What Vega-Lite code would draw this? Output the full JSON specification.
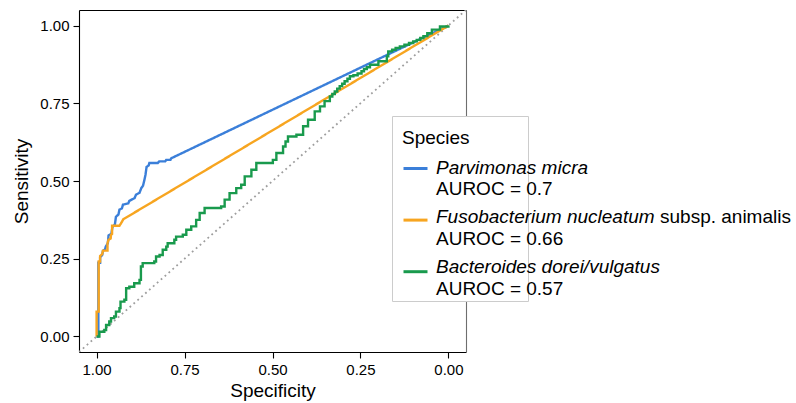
{
  "$schema": "https://vega.github.io/schema/vega-lite/v6.json",
  "width": 387,
  "height": 342,
  "autosize": {"type": "none"},
  "padding": {"left": 79, "top": 10, "right": 330, "bottom": 51},
  "background": "white",
  "config": {
    "view": {"stroke": null},
    "font": "Liberation Sans",
    "axis": {
      "grid": false,
      "domainColor": "#000000",
      "domainWidth": 1.1,
      "tickColor": "#000000",
      "tickWidth": 1.1,
      "tickSize": 6,
      "labelFont": "Liberation Sans",
      "labelFontSize": 15,
      "labelColor": "#000000",
      "titleFont": "Liberation Sans",
      "titleFontSize": 19,
      "titleFontWeight": "normal",
      "titleColor": "#000000"
    },
    "legend": {
      "labelFont": "Liberation Sans",
      "titleFont": "Liberation Sans",
      "labelColor": "#000000",
      "titleColor": "#000000"
    }
  },
  "datasets": {
    "info": [
      {"id": "P", "species": "Parvimonas micra", "auroc": 0.7},
      {"id": "F", "species": "Fusobacterium nucleatum subsp. animalis", "auroc": 0.66},
      {"id": "B", "species": "Bacteroides dorei/vulgatus", "auroc": 0.57}
    ],
    "diag": [
      {"spec": -0.05, "sens": 1.05},
      {"spec": 1.05, "sens": -0.05}
    ],
    "roc": [
      {"id":"P","spec":1,"sens":0},{"id":"P","spec":0.995,"sens":0},{"id":"P","spec":0.995,"sens":0.237},{"id":"P","spec":0.99,"sens":0.237},{"id":"P","spec":0.99,"sens":0.255},{"id":"P","spec":0.984,"sens":0.262},{"id":"P","spec":0.982,"sens":0.275},{"id":"P","spec":0.976,"sens":0.28},{"id":"P","spec":0.974,"sens":0.289},{"id":"P","spec":0.968,"sens":0.3},{"id":"P","spec":0.966,"sens":0.325},{"id":"P","spec":0.958,"sens":0.33},{"id":"P","spec":0.955,"sens":0.352},{"id":"P","spec":0.948,"sens":0.36},{"id":"P","spec":0.945,"sens":0.385},{"id":"P","spec":0.938,"sens":0.392},{"id":"P","spec":0.935,"sens":0.408},{"id":"P","spec":0.928,"sens":0.412},{"id":"P","spec":0.925,"sens":0.424},{"id":"P","spec":0.91,"sens":0.428},{"id":"P","spec":0.907,"sens":0.436},{"id":"P","spec":0.892,"sens":0.445},{"id":"P","spec":0.888,"sens":0.456},{"id":"P","spec":0.878,"sens":0.462},{"id":"P","spec":0.873,"sens":0.477},{"id":"P","spec":0.868,"sens":0.485},{"id":"P","spec":0.865,"sens":0.499},{"id":"P","spec":0.861,"sens":0.52},{"id":"P","spec":0.858,"sens":0.545},{"id":"P","spec":0.852,"sens":0.55},{"id":"P","spec":0.85,"sens":0.558},{"id":"P","spec":0.826,"sens":0.558},{"id":"P","spec":0.822,"sens":0.563},{"id":"P","spec":0.805,"sens":0.563},{"id":"P","spec":0.802,"sens":0.568},{"id":"P","spec":0.79,"sens":0.568},{"id":"P","spec":0.788,"sens":0.573},{"id":"P","spec":0,"sens":1},
      {"id":"F","spec":1,"sens":0},{"id":"F","spec":1,"sens":0.08},{"id":"F","spec":0.994,"sens":0.08},{"id":"F","spec":0.994,"sens":0.241},{"id":"F","spec":0.99,"sens":0.241},{"id":"F","spec":0.99,"sens":0.259},{"id":"F","spec":0.984,"sens":0.265},{"id":"F","spec":0.982,"sens":0.276},{"id":"F","spec":0.969,"sens":0.276},{"id":"F","spec":0.969,"sens":0.3},{"id":"F","spec":0.966,"sens":0.311},{"id":"F","spec":0.96,"sens":0.315},{"id":"F","spec":0.959,"sens":0.327},{"id":"F","spec":0.956,"sens":0.33},{"id":"F","spec":0.956,"sens":0.356},{"id":"F","spec":0.935,"sens":0.356},{"id":"F","spec":0.93,"sens":0.365},{"id":"F","spec":0.924,"sens":0.377},{"id":"F","spec":0,"sens":1},
      {"id":"B","spec":1,"sens":0},{"id":"B","spec":0.992,"sens":0},{"id":"B","spec":0.992,"sens":0.015},{"id":"B","spec":0.978,"sens":0.015},{"id":"B","spec":0.978,"sens":0.021},{"id":"B","spec":0.973,"sens":0.021},{"id":"B","spec":0.973,"sens":0.037},{"id":"B","spec":0.964,"sens":0.037},{"id":"B","spec":0.964,"sens":0.048},{"id":"B","spec":0.959,"sens":0.048},{"id":"B","spec":0.959,"sens":0.059},{"id":"B","spec":0.95,"sens":0.059},{"id":"B","spec":0.95,"sens":0.064},{"id":"B","spec":0.945,"sens":0.064},{"id":"B","spec":0.945,"sens":0.08},{"id":"B","spec":0.935,"sens":0.08},{"id":"B","spec":0.935,"sens":0.091},{"id":"B","spec":0.932,"sens":0.091},{"id":"B","spec":0.932,"sens":0.112},{"id":"B","spec":0.921,"sens":0.112},{"id":"B","spec":0.921,"sens":0.118},{"id":"B","spec":0.916,"sens":0.118},{"id":"B","spec":0.916,"sens":0.155},{"id":"B","spec":0.907,"sens":0.155},{"id":"B","spec":0.907,"sens":0.16},{"id":"B","spec":0.893,"sens":0.16},{"id":"B","spec":0.893,"sens":0.171},{"id":"B","spec":0.878,"sens":0.171},{"id":"B","spec":0.878,"sens":0.182},{"id":"B","spec":0.874,"sens":0.182},{"id":"B","spec":0.874,"sens":0.225},{"id":"B","spec":0.869,"sens":0.225},{"id":"B","spec":0.869,"sens":0.236},{"id":"B","spec":0.836,"sens":0.236},{"id":"B","spec":0.836,"sens":0.241},{"id":"B","spec":0.831,"sens":0.241},{"id":"B","spec":0.831,"sens":0.257},{"id":"B","spec":0.821,"sens":0.257},{"id":"B","spec":0.821,"sens":0.262},{"id":"B","spec":0.812,"sens":0.262},{"id":"B","spec":0.812,"sens":0.279},{"id":"B","spec":0.802,"sens":0.279},{"id":"B","spec":0.802,"sens":0.289},{"id":"B","spec":0.798,"sens":0.289},{"id":"B","spec":0.798,"sens":0.3},{"id":"B","spec":0.779,"sens":0.3},{"id":"B","spec":0.779,"sens":0.311},{"id":"B","spec":0.774,"sens":0.311},{"id":"B","spec":0.774,"sens":0.321},{"id":"B","spec":0.755,"sens":0.321},{"id":"B","spec":0.755,"sens":0.327},{"id":"B","spec":0.745,"sens":0.327},{"id":"B","spec":0.745,"sens":0.343},{"id":"B","spec":0.731,"sens":0.343},{"id":"B","spec":0.731,"sens":0.354},{"id":"B","spec":0.717,"sens":0.354},{"id":"B","spec":0.717,"sens":0.375},{"id":"B","spec":0.707,"sens":0.375},{"id":"B","spec":0.707,"sens":0.397},{"id":"B","spec":0.693,"sens":0.397},{"id":"B","spec":0.693,"sens":0.413},{"id":"B","spec":0.646,"sens":0.413},{"id":"B","spec":0.646,"sens":0.418},{"id":"B","spec":0.636,"sens":0.418},{"id":"B","spec":0.636,"sens":0.44},{"id":"B","spec":0.622,"sens":0.44},{"id":"B","spec":0.622,"sens":0.461},{"id":"B","spec":0.603,"sens":0.461},{"id":"B","spec":0.603,"sens":0.477},{"id":"B","spec":0.589,"sens":0.477},{"id":"B","spec":0.589,"sens":0.488},{"id":"B","spec":0.579,"sens":0.488},{"id":"B","spec":0.579,"sens":0.515},{"id":"B","spec":0.56,"sens":0.515},{"id":"B","spec":0.56,"sens":0.536},{"id":"B","spec":0.546,"sens":0.536},{"id":"B","spec":0.546,"sens":0.558},{"id":"B","spec":0.499,"sens":0.558},{"id":"B","spec":0.499,"sens":0.568},{"id":"B","spec":0.489,"sens":0.568},{"id":"B","spec":0.489,"sens":0.59},{"id":"B","spec":0.47,"sens":0.59},{"id":"B","spec":0.47,"sens":0.611},{"id":"B","spec":0.463,"sens":0.611},{"id":"B","spec":0.463,"sens":0.627},{"id":"B","spec":0.456,"sens":0.627},{"id":"B","spec":0.456,"sens":0.643},{"id":"B","spec":0.432,"sens":0.643},{"id":"B","spec":0.432,"sens":0.649},{"id":"B","spec":0.413,"sens":0.649},{"id":"B","spec":0.413,"sens":0.676},{"id":"B","spec":0.399,"sens":0.676},{"id":"B","spec":0.399,"sens":0.697},{"id":"B","spec":0.38,"sens":0.697},{"id":"B","spec":0.38,"sens":0.724},{"id":"B","spec":0.365,"sens":0.724},{"id":"B","spec":0.365,"sens":0.74},{"id":"B","spec":0.352,"sens":0.74},{"id":"B","spec":0.352,"sens":0.757},{"id":"B","spec":0.337,"sens":0.757},{"id":"B","spec":0.337,"sens":0.772},{"id":"B","spec":0.33,"sens":0.772},{"id":"B","spec":0.33,"sens":0.78},{"id":"B","spec":0.323,"sens":0.78},{"id":"B","spec":0.323,"sens":0.788},{"id":"B","spec":0.316,"sens":0.788},{"id":"B","spec":0.316,"sens":0.797},{"id":"B","spec":0.309,"sens":0.797},{"id":"B","spec":0.309,"sens":0.805},{"id":"B","spec":0.302,"sens":0.805},{"id":"B","spec":0.302,"sens":0.813},{"id":"B","spec":0.295,"sens":0.813},{"id":"B","spec":0.295,"sens":0.821},{"id":"B","spec":0.287,"sens":0.821},{"id":"B","spec":0.287,"sens":0.829},{"id":"B","spec":0.28,"sens":0.829},{"id":"B","spec":0.28,"sens":0.837},{"id":"B","spec":0.27,"sens":0.837},{"id":"B","spec":0.27,"sens":0.84},{"id":"B","spec":0.258,"sens":0.84},{"id":"B","spec":0.258,"sens":0.846},{"id":"B","spec":0.247,"sens":0.846},{"id":"B","spec":0.247,"sens":0.853},{"id":"B","spec":0.24,"sens":0.853},{"id":"B","spec":0.24,"sens":0.86},{"id":"B","spec":0.232,"sens":0.86},{"id":"B","spec":0.232,"sens":0.866},{"id":"B","spec":0.223,"sens":0.866},{"id":"B","spec":0.223,"sens":0.874},{"id":"B","spec":0.199,"sens":0.874},{"id":"B","spec":0.199,"sens":0.885},{"id":"B","spec":0.175,"sens":0.885},{"id":"B","spec":0.175,"sens":0.901},{"id":"B","spec":0.171,"sens":0.901},{"id":"B","spec":0.171,"sens":0.917},{"id":"B","spec":0.16,"sens":0.917},{"id":"B","spec":0.16,"sens":0.922},{"id":"B","spec":0.15,"sens":0.922},{"id":"B","spec":0.15,"sens":0.928},{"id":"B","spec":0.138,"sens":0.928},{"id":"B","spec":0.138,"sens":0.933},{"id":"B","spec":0.125,"sens":0.933},{"id":"B","spec":0.125,"sens":0.938},{"id":"B","spec":0.112,"sens":0.938},{"id":"B","spec":0.112,"sens":0.944},{"id":"B","spec":0.1,"sens":0.944},{"id":"B","spec":0.1,"sens":0.949},{"id":"B","spec":0.09,"sens":0.949},{"id":"B","spec":0.09,"sens":0.954},{"id":"B","spec":0.08,"sens":0.954},{"id":"B","spec":0.08,"sens":0.96},{"id":"B","spec":0.071,"sens":0.96},{"id":"B","spec":0.071,"sens":0.966},{"id":"B","spec":0.06,"sens":0.966},{"id":"B","spec":0.06,"sens":0.975},{"id":"B","spec":0.047,"sens":0.975},{"id":"B","spec":0.047,"sens":0.987},{"id":"B","spec":0.024,"sens":0.987},{"id":"B","spec":0.024,"sens":0.997},{"id":"B","spec":0,"sens":0.997},{"id":"B","spec":0,"sens":1}
    ]
  },
  "layer": [
    {
      "data": {"name": "diag"},
      "mark": {"type": "line", "color": "#9e9e9e", "strokeWidth": 1.8, "strokeDash": [1.8, 3.4], "clip": true},
      "encoding": {
        "x": {"field": "spec", "type": "quantitative",
              "scale": {"domain": [-0.05, 1.05], "reverse": true, "nice": false, "zero": false},
              "axis": {"orient": "top", "labels": false, "ticks": false, "title": null, "domainColor": "#000000"}},
        "y": {"field": "sens", "type": "quantitative",
              "scale": {"domain": [-0.05, 1.05], "nice": false, "zero": false},
              "axis": {"orient": "right", "labels": false, "ticks": false, "title": null, "domainColor": "#6e6e6e"}}
      }
    },
    {
      "data": {"name": "roc"},
      "transform": [
        {"lookup": "id", "from": {"data": {"name": "info"}, "key": "id", "fields": ["species", "auroc"]}},
        {"lookup": "id", "from": {"data": {"name": "info"}, "key": "id", "fields": ["species"]}, "as": ["full_name"]}
      ],
      "mark": {"type": "line", "clip": true},
      "encoding": {
        "x": {"field": "spec", "type": "quantitative",
              "scale": {"domain": [-0.05, 1.05], "reverse": true, "nice": false, "zero": false},
              "axis": {"orient": "bottom", "title": "Specificity", "values": [0, 0.25, 0.5, 0.75, 1], "format": ".2f", "labelPadding": 4, "titlePadding": 4}},
        "y": {"field": "sens", "type": "quantitative",
              "scale": {"domain": [-0.05, 1.05], "nice": false, "zero": false},
              "axis": {"orient": "left", "title": "Sensitivity", "values": [0, 0.25, 0.5, 0.75, 1], "format": ".2f", "labelPadding": 4, "titlePadding": 8}},
        "order": {"value": null},
        "color": {
          "field": "species", "type": "nominal",
          "scale": {"domain": ["Parvimonas micra", "Fusobacterium nucleatum subsp. animalis", "Bacteroides dorei/vulgatus"],
                    "range": ["#3b7fd9", "#f7a520", "#199a4d"]},
          "legend": {
            "title": "Species", "orient": "none", "legendX": 313, "legendY": 106, "direction": "vertical",
            "padding": 10, "fillColor": "#ffffff", "strokeColor": "#cccccc", "cornerRadius": 0,
            "titleFontSize": 19, "titleFontWeight": "normal", "titlePadding": 10,
            "titleBaseline": "line-top", "titleLineHeight": 24,
            "symbolType": "stroke", "symbolSize": 576, "symbolStrokeWidth": 3,
            "labelExpr": "' '", "labelBaseline": "top", "labelOffset": 89, "labelFontSize": 19, "rowPadding": 18.6
          }
        },
        "opacity": {
          "field": "species", "type": "ordinal", "sort": "descending",
          "scale": {"range": [1, 1]},
          "legend": {
            "title": null, "orient": "none", "legendX": 338, "legendY": 148, "direction": "vertical",
            "padding": 0, "symbolSize": 0, "symbolOpacity": 0, "labelOffset": 0, "labelLimit": 600,
            "labelFontSize": 19, "labelFontStyle": "italic", "rowPadding": 29.8,
            "labelExpr": "indexof(datum.label, ' subsp.') >= 0 ? slice(datum.label, 0, indexof(datum.label, ' subsp.')) : datum.label"
          }
        },
        "strokeWidth": {
          "field": "auroc", "type": "ordinal", "sort": "descending",
          "scale": {"range": [2.4, 2.4]},
          "legend": {
            "title": null, "orient": "none", "legendX": 338, "legendY": 169.5, "direction": "vertical",
            "padding": 0, "symbolSize": 0, "symbolOpacity": 0, "labelOffset": 0, "labelLimit": 600,
            "labelFontSize": 19, "rowPadding": 29.8,
            "labelExpr": "'AUROC = ' + datum.label"
          }
        },
        "strokeDash": {
          "field": "full_name", "type": "nominal",
          "sort": {"field": "auroc", "op": "max", "order": "descending"},
          "scale": {"range": [[1, 0]]},
          "legend": {
            "title": null, "orient": "none", "legendX": 562, "legendY": 197.5, "direction": "vertical",
            "values": ["Fusobacterium nucleatum subsp. animalis"],
            "padding": 0, "symbolSize": 0, "symbolOpacity": 0, "labelOffset": 0, "labelLimit": 600,
            "labelFontSize": 19,
            "labelExpr": "slice(datum.label, indexof(datum.label, 'subsp.'))"
          }
        }
      }
    }
  ],
  "resolve": {"axis": {"x": "independent", "y": "independent"}}
}
